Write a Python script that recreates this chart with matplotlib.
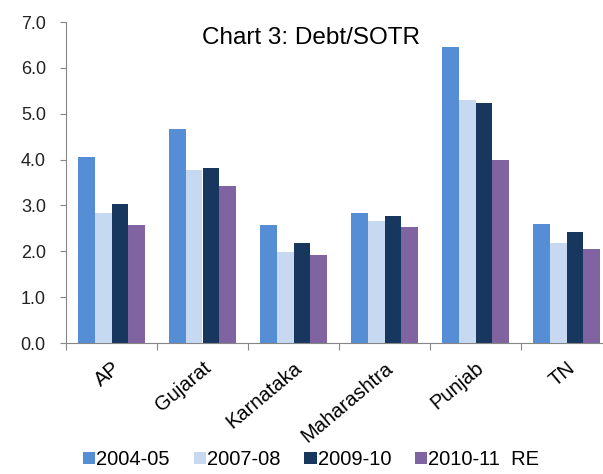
import numpy as np
import matplotlib.pyplot as plt

plt.rcParams['font.family'] = ['Liberation Sans', 'DejaVu Sans']

states = ["AP", "Gujarat", "Karnataka", "Maharashtra", "Punjab", "TN"]
years = ["2004-05", "2007-08", "2009-10", "2010-11  RE"]
v2004 = [4.05, 4.66, 2.57, 2.84, 6.45, 2.59]
v2007 = [2.84, 3.78, 1.99, 2.65, 5.30, 2.17]
v2009 = [3.04, 3.82, 2.18, 2.76, 5.24, 2.43]
v2010 = [2.57, 3.43, 1.92, 2.53, 3.99, 2.05]
colors = ["#558ED5", "#C6D9F1", "#17375E", "#8064A2"]

fig = plt.figure(figsize=(6.03, 4.74), dpi=100)
ax = fig.add_axes([66/603, 131/474, 546/603, 321/474])

x = np.arange(len(states))
w = 0.182
series = [v2004, v2007, v2009, v2010]
for i, vals in enumerate(series):
    ax.bar(x + (i - 1.5) * w, vals, w, color=colors[i], label=years[i])

ax.set_xlim(-0.5, len(states) - 0.5)
ax.set_ylim(0, 7)
ax.set_yticks(np.arange(0, 7.1, 1.0))
ax.set_yticklabels(["%.1f" % t for t in np.arange(0, 7.1, 1.0)])
ax.set_xticks(np.arange(-0.5, len(states)), [""] * (len(states) + 1))
ax.set_xticks(x, states, minor=True, rotation=40, ha='right', rotation_mode='anchor')
ax.tick_params(axis='x', which='minor', length=0, pad=11, labelsize=14.5)
ax.tick_params(axis='x', which='major', length=5, color='#868686')
ax.tick_params(axis='y', length=4.5, pad=10, color='#868686', labelsize=13, labelcolor='#222222')

for s in ['top', 'right']:
    ax.spines[s].set_visible(False)
for s in ['left', 'bottom']:
    ax.spines[s].set_color('#868686')

fig.text(0.516, 1 - 44/474, "Chart 3: Debt/SOTR", ha='center', va='baseline', fontsize=17.5)

fig.legend(loc='center', bbox_to_anchor=(0.516, 0.03), ncol=4, frameon=False, fontsize=14.5,
           handlelength=0.6, handleheight=0.55, handletextpad=0.05, columnspacing=1.2)

fig.savefig("out.png", dpi=100)
